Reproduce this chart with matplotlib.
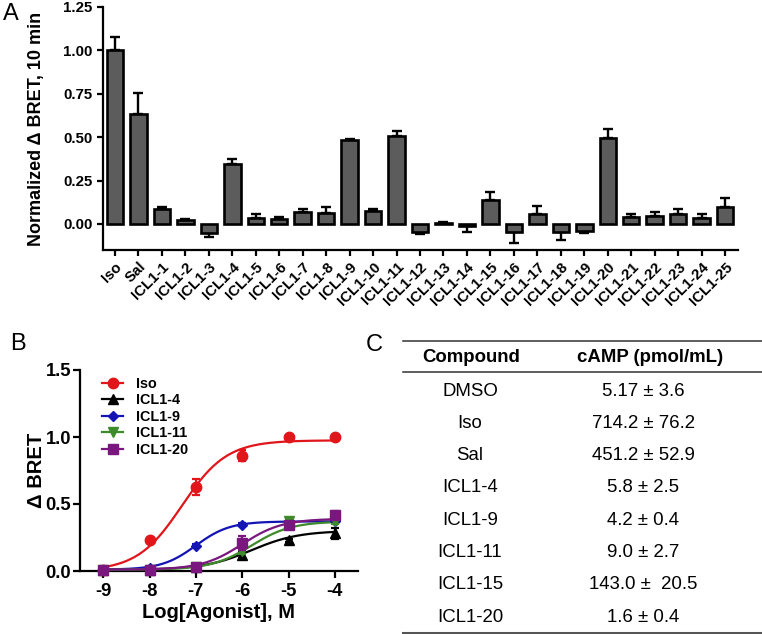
import numpy as np
import matplotlib
matplotlib.use("Agg")
import matplotlib.pyplot as plt
from matplotlib.lines import Line2D

plt.rcParams['font.family'] = ['Liberation Sans', 'DejaVu Sans']

# ---------------- Panel A data ----------------
compounds_a = ["Iso", "Sal"] + [f"ICL1-{i}" for i in range(1, 26)]
bret_a = [1.00, 0.632, 0.086, 0.020, -0.052, 0.347, 0.036, 0.030, 0.070, 0.063,
          0.481, 0.075, 0.508, -0.044, 0.005, -0.013, 0.138, -0.048, 0.058, -0.044,
          -0.038, 0.498, 0.042, 0.048, 0.060, 0.033, 0.098]
err_a = [0.076, 0.122, 0.011, 0.010, 0.021, 0.029, 0.020, 0.010, 0.018, 0.035,
         0.011, 0.010, 0.027, 0.014, 0.005, 0.031, 0.047, 0.062, 0.046, 0.046,
         0.016, 0.052, 0.014, 0.019, 0.025, 0.027, 0.052]

# ---------------- Panel B data ----------------
log_conc = [-9, -8, -7, -6, -5, -4]
series_b = ["Iso", "ICL1-4", "ICL1-9", "ICL1-11", "ICL1-20"]
iso_y = [0.01, 0.23, 0.63, 0.86, 1.00, 1.00]
iso_e = [0.01, 0.01, 0.06, 0.04, 0.01, 0.01]
icl4_y = [0.01, 0.01, 0.03, 0.12, 0.23, 0.28]
icl4_e = [0.005, 0.005, 0.01, 0.02, 0.01, 0.04]
icl9_y = [0.01, 0.02, 0.19, 0.345, 0.37, 0.37]
icl9_e = [0.005, 0.005, 0.01, 0.01, 0.01, 0.01]
icl11_y = [0.01, 0.01, 0.03, 0.15, 0.37, 0.37]
icl11_e = [0.005, 0.005, 0.01, 0.02, 0.01, 0.02]
icl20_y = [0.01, 0.01, 0.03, 0.21, 0.34, 0.42]
icl20_e = [0.005, 0.005, 0.01, 0.05, 0.02, 0.03]
# fitted 4-parameter logistic: bottom, top, logEC50, hill
fit_bottom = [0.0, 0.01, 0.01, 0.01, 0.01]
fit_top = [0.975, 0.30, 0.37, 0.37, 0.39]
fit_logec50 = [-7.3, -5.8, -7.0, -5.8, -6.0]
fit_hill = [0.9, 0.85, 1.19, 1.0, 1.0]

# ---------------- Panel C data ----------------
table_compounds = ["DMSO", "Iso", "Sal", "ICL1-4", "ICL1-9", "ICL1-11", "ICL1-15", "ICL1-20"]
table_camp = ["5.17 ± 3.6", "714.2 ± 76.2", "451.2 ± 52.9", "5.8 ± 2.5", "4.2 ± 0.4",
              "9.0 ± 2.7", "143.0 ±  20.5", "1.6 ± 0.4"]
table_header = ["Compound", "cAMP (pmol/mL)"]

W, H = 762, 634
fig = plt.figure(figsize=(W / 100, H / 100), dpi=100)


def fx(x):
    return x / W


def fy(y):
    return 1 - y / H


# ================= Panel A =================
axA = fig.add_axes([fx(103), fy(250), fx(738) - fx(103), fy(7) - fy(250)])
xa = np.arange(len(compounds_a))
vals = np.array(bret_a)
errs = np.array(err_a)
axA.bar(xa, vals, width=0.7, color='#5c5c5c', edgecolor='black', linewidth=1.9, zorder=2)
lower = np.where(vals < 0, errs, 0)
upper = np.where(vals >= 0, errs, 0)
axA.errorbar(xa, vals, yerr=[lower, upper], fmt='none', ecolor='black',
             elinewidth=1.7, capsize=3.5, capthick=1.7, zorder=1)
axA.set_xlim(-0.51, 26.55)
axA.set_ylim(-0.15, 1.25)
axA.set_yticks([0.0, 0.25, 0.5, 0.75, 1.0, 1.25])
axA.set_yticklabels(["0.00", "0.25", "0.50", "0.75", "1.00", "1.25"])
axA.set_xticks(xa)
axA.set_xticklabels(compounds_a, rotation=45, ha='right', rotation_mode='anchor')
for s in ['top', 'right']:
    axA.spines[s].set_visible(False)
for s in ['left', 'bottom']:
    axA.spines[s].set_linewidth(1.6)
axA.tick_params(axis='both', width=1.6, length=4, labelsize=10.8)
axA.tick_params(axis='x', labelsize=10.8, pad=3)
for lab in axA.get_xticklabels() + axA.get_yticklabels():
    lab.set_fontweight('bold')
axA.set_ylabel("Normalized Δ BRET, 10 min", fontsize=13, fontweight='bold')
axA.yaxis.set_label_coords((45 - 103) / 635, 0.5)
fig.text(fx(3), fy(13.5), "A", fontsize=17, va='center', ha='left')

# ================= Panel B =================
axB = fig.add_axes([fx(80), fy(571), fx(358) - fx(80), fy(370) - fy(571)])
colors = ['#e0161b', '#000000', '#1414b4', '#3f8a2a', '#7a177f']
markers = ['o', '^', 'D', 'v', 's']
msizes = [7.5, 7.5, 5.5, 7.5, 7.5]
ys = [iso_y, icl4_y, icl9_y, icl11_y, icl20_y]
es = [iso_e, icl4_e, icl9_e, icl11_e, icl20_e]
xc = np.linspace(-9, -4, 300)
handles = []
for i in range(len(series_b)):
    curve = fit_bottom[i] + (fit_top[i] - fit_bottom[i]) / (1 + 10 ** (fit_hill[i] * (fit_logec50[i] - xc)))
    axB.plot(xc, curve, color=colors[i], lw=1.6, zorder=2 + i, clip_on=False)
    axB.errorbar(log_conc, ys[i], yerr=es[i], fmt=markers[i], color=colors[i],
                 ms=msizes[i], capsize=3, elinewidth=1.6, capthick=1.6,
                 zorder=3 + i, clip_on=False)
    handles.append(Line2D([], [], color=colors[i], marker=markers[i], ms=msizes[i], lw=1.6))
axB.set_xlim(-9.5, -3.5)
axB.set_ylim(0, 1.5)
axB.set_xticks(log_conc)
axB.set_xticklabels([str(v) for v in log_conc])
axB.set_yticks([0.0, 0.5, 1.0, 1.5])
axB.set_yticklabels(["0.0", "0.5", "1.0", "1.5"])
for s in ['top', 'right']:
    axB.spines[s].set_visible(False)
for s in ['left', 'bottom']:
    axB.spines[s].set_linewidth(1.6)
axB.tick_params(axis='both', width=1.6, length=5, labelsize=13.2)
axB.tick_params(axis='y', pad=1.5)
for lab in axB.get_xticklabels() + axB.get_yticklabels():
    lab.set_fontweight('bold')
axB.set_xlabel("Log[Agonist], M", fontsize=14.5, fontweight='bold', labelpad=2)
axB.set_ylabel("Δ BRET", fontsize=14.5, fontweight='bold')
axB.yaxis.set_label_coords((46 - 80) / 278, 0.5)
leg = axB.legend(handles, series_b, loc='upper left', bbox_to_anchor=(0.078, 0.965),
                 frameon=False, handlelength=1.5, handletextpad=0.85, labelspacing=0.17,
                 borderpad=0, borderaxespad=0, prop={'size': 10.4, 'weight': 'bold'})
fig.text(fx(10), fy(344), "B", fontsize=17, va='center', ha='left')

# ================= Panel C =================
fig.text(fx(366), fy(345), "C", fontsize=17, va='center', ha='left')
x0, x1 = fx(403), fx(762)
fig.add_artist(Line2D([x0, x1], [fy(341), fy(341)], color='#333333', lw=1.1, transform=fig.transFigure))
fig.add_artist(Line2D([x0, x1], [fy(372), fy(372)], color='#333333', lw=1.1, transform=fig.transFigure))
fig.add_artist(Line2D([x0, x1], [fy(632.5), fy(632.5)], color='#555555', lw=2.2, transform=fig.transFigure))
fig.text(fx(471), fy(358), table_header[0], fontsize=13.4, fontweight='bold', ha='center', va='center')
fig.text(fx(650), fy(358), table_header[1], fontsize=13.4, fontweight='bold', ha='center', va='center')
row_y0, row_dy = 391, 32.3
for i, (c, v) in enumerate(zip(table_compounds, table_camp)):
    y = row_y0 + i * row_dy
    fig.text(fx(470), fy(y), c, fontsize=13.4, ha='center', va='center')
    fig.text(fx(643), fy(y), v, fontsize=13.4, ha='center', va='center')

fig.savefig("out.png", dpi=100)
